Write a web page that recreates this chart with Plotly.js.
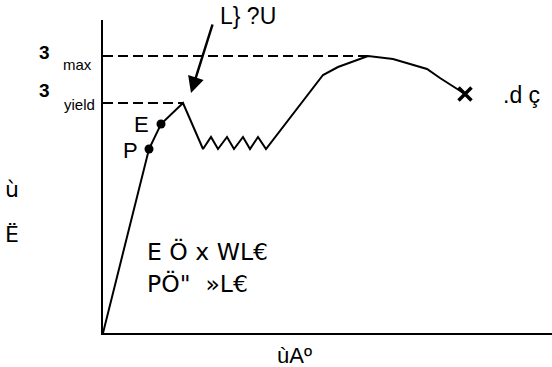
<!DOCTYPE html>
<html>
<head>
<meta charset="utf-8">
<script src="https://cdn.plot.ly/plotly-3.0.1.min.js"></script>
<style>
  html, body { margin: 0; padding: 0; background: #fff; }
  #chart { width: 552px; height: 367px; }
</style>
</head>
<body>
<div id="chart"></div>
<script>
// stress-strain curve (arbitrary units)
const curveX = [0, 4.6, 5.8, 8.0, 10.0, 10.8, 11.5, 12.4, 13.1, 14.0, 14.7, 15.5, 16.3, 22.0, 23.5, 26.5, 29.0, 32.4, 33.7, 36.2];
const curveY = [0, 18.4, 20.9, 23.0, 18.4, 19.6, 18.4, 19.6, 18.4, 19.6, 18.4, 19.6, 18.4, 25.8, 26.6, 27.7, 27.4, 26.4, 25.5, 23.9];

// proportional limit and elastic limit points
const dotX = [4.6, 5.8];
const dotY = [18.4, 20.9];

// fracture point
const breakX = [36.2];
const breakY = [23.9];

// reference levels
const yieldLevel = 23.0;
const yieldEndX = 8.0;
const maxLevel = 27.7;
const maxEndX = 26.7;

const lineStyle = { color: 'black', width: 2 };
const dashStyle = { color: 'black', width: 2, dash: '10px,5px' };

const traces = [
    {
        x: [0, yieldEndX], y: [yieldLevel, yieldLevel],
        mode: 'lines', line: dashStyle, hoverinfo: 'skip'
    },
    {
        x: [0, maxEndX], y: [maxLevel, maxLevel],
        mode: 'lines', line: dashStyle, hoverinfo: 'skip'
    },
    {
        x: curveX, y: curveY,
        mode: 'lines', line: lineStyle
    },
    {
        x: dotX, y: dotY,
        mode: 'markers', marker: { color: 'black', size: 9 }
    },
    {
        x: breakX, y: breakY,
        mode: 'markers',
        marker: { symbol: 'x-thin', size: 13, line: { color: 'black', width: 3.5 } }
    }
];

// pixel position -> paper coords (plot area is 449 x 313, origin at 103,333)
const px2x = px => (px - 103) / 449;
const py2y = py => (333 - py) / 313;

const arial = { family: 'Liberation Sans, Arial, sans-serif', color: 'black', size: 22 };
const dejavu = { family: 'DejaVu Sans, sans-serif', color: 'black', size: 22 };

function label(text, px, py, font, anchor) {
    return {
        x: px2x(px), y: py2y(py), xref: 'paper', yref: 'paper',
        text: text, showarrow: false, font: font,
        xanchor: anchor || 'center', yanchor: 'middle'
    };
}

const annotations = [
    label('<b>3</b>', 44, 52, { ...arial, size: 19 }),
    label('max', 77, 64, { ...arial, size: 15 }),
    label('<b>3</b>', 44, 91, { ...arial, size: 19 }),
    label('yield', 79, 104, { ...arial, size: 15 }),
    label('E', 141, 124, arial),
    label('P', 130, 150, arial),
    label('L} ?U', 218, 16, { ...arial, size: 23 }, 'left'),
    label('.d ç', 501, 95, { ...arial, size: 23 }, 'left'),
    label('ù', 12, 190, dejavu),
    label('Ë', 12, 234, dejavu),
    label('E Ö x WL€', 145, 252, { ...dejavu, size: 23.5 }, 'left'),
    label('PÖ"  »L€', 145, 284, { ...dejavu, size: 23.5 }, 'left'),
    label('ùAº', 294, 355, arial),
    {
        x: dx(191), y: dy(93), ax: dx(213), ay: dy(23),
        xref: 'x', yref: 'y', axref: 'x', ayref: 'y',
        text: '', showarrow: true, arrowhead: 2, arrowsize: 1.3,
        arrowwidth: 2.5, arrowcolor: 'black'
    }
];

function dx(px) { return (px - 103) / 10; }
function dy(py) { return (333 - py) / 10; }

const layout = {
    width: 552,
    height: 367,
    margin: { l: 103, r: 0, t: 20, b: 34 },
    paper_bgcolor: 'white',
    plot_bgcolor: 'white',
    showlegend: false,
    xaxis: {
        range: [0, 44.9], showgrid: false, zeroline: false,
        showticklabels: false, ticks: '', showline: true,
        linecolor: 'black', linewidth: 2, fixedrange: true
    },
    yaxis: {
        range: [0, 31.3], showgrid: false, zeroline: false,
        showticklabels: false, ticks: '', showline: true,
        linecolor: 'black', linewidth: 2, fixedrange: true
    },
    annotations: annotations
};

Plotly.newPlot('chart', traces, layout, { displayModeBar: false, staticPlot: true });
</script>
</body>
</html>
